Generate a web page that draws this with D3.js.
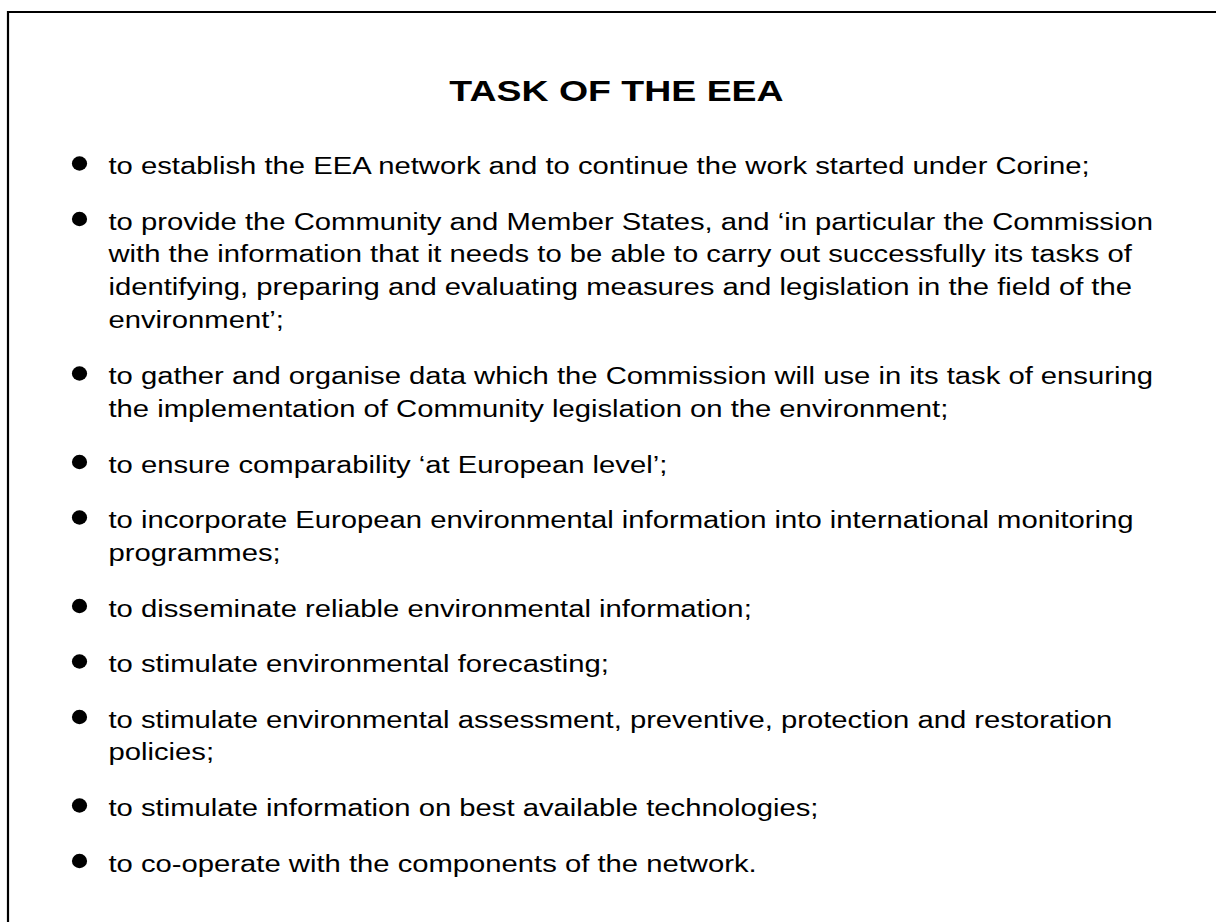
<!DOCTYPE html>
<html>
<head>
<meta charset="utf-8">
<script src="https://cdn.jsdelivr.net/npm/d3@7"></script>
<style>
  html, body { margin: 0; padding: 0; background: #fff; }
  svg { display: block; }
</style>
</head>
<body>
<svg id="slide" width="1216" height="922"></svg>
<script>
// slide content
const title = 'TASK OF THE EEA';

const bullets = [
  ['to establish the EEA network and to continue the work started under Corine;'],
  ['to provide the Community and Member States, and \u2018in particular the Commission',
   'with the information that it needs to be able to carry out successfully its tasks of',
   'identifying, preparing and evaluating measures and legislation in the field of the',
   'environment\u2019;'],
  ['to gather and organise data which the Commission will use in its task of ensuring',
   'the implementation of Community legislation on the environment;'],
  ['to ensure comparability \u2018at European level\u2019;'],
  ['to incorporate European environmental information into international monitoring',
   'programmes;'],
  ['to disseminate reliable environmental information;'],
  ['to stimulate environmental forecasting;'],
  ['to stimulate environmental assessment, preventive, protection and restoration',
   'policies;'],
  ['to stimulate information on best available technologies;'],
  ['to co-operate with the components of the network.']
];

const dims = {
  width: 1216,
  height: 922,
  border_x: 8,
  border_y: 12,
  text_x: 108.5,
  bullet_x: 79.5,
  first_baseline: 174,
  line_gap: 33,
  para_gap: 55.5,
  stretch: 1.255
};

const svg = d3.select('#slide');
const { width, height, border_x, border_y, text_x, bullet_x, first_baseline, line_gap, para_gap, stretch } = dims;

// frame (only top and left edges are visible)
svg.append('path')
  .attr('d', `M${border_x},${height} L${border_x},${border_y} L${width},${border_y}`)
  .attr('fill', 'none')
  .attr('stroke', '#000')
  .attr('stroke-width', 2.2);

// title (the slide is stretched sideways, so the text is too)
svg.append('text')
  .attr('transform', 'translate(616.5, 100.5) scale(1.31, 1)')
  .attr('text-anchor', 'middle')
  .attr('font-family', 'Liberation Sans, Arial, sans-serif')
  .attr('font-weight', 'bold')
  .attr('font-size', 28.6)
  .attr('fill', '#000')
  .text(title);

// baseline of first line in each paragraph
let y = first_baseline;
const paras = bullets.map(lines => {
  const p = { lines, y };
  y += (lines.length - 1) * line_gap + para_gap;
  return p;
});

const items = svg.selectAll('g.item')
  .data(paras)
  .enter()
  .append('g')
  .attr('class', 'item')
  .attr('transform', d => `translate(0, ${d.y})`);

items.append('ellipse')
  .attr('cx', bullet_x)
  .attr('cy', -10.5)
  .attr('rx', 7.6)
  .attr('ry', 7.2)
  .attr('fill', '#000');

items.append('text')
  .attr('transform', `translate(${text_x}, 0) scale(${stretch}, 1)`)
  .attr('font-family', 'Liberation Sans, Arial, sans-serif')
  .attr('font-size', 23.3)
  .attr('fill', '#000')
  .selectAll('tspan')
  .data(d => d.lines)
  .enter()
  .append('tspan')
  .attr('x', 0)
  .attr('y', (d, i) => i * line_gap)
  .text(d => d);
</script>
</body>
</html>
